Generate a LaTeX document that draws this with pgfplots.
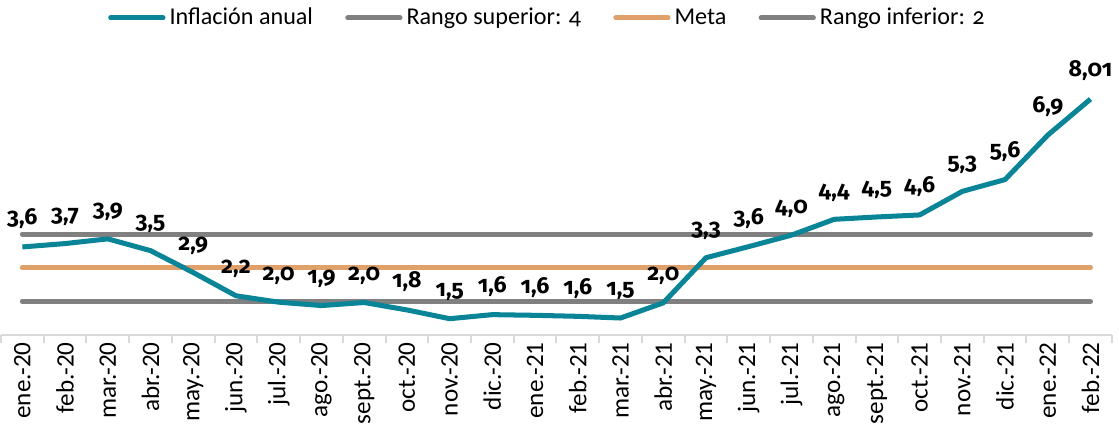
\documentclass[border=0pt]{standalone}
\usepackage{fontspec}
\setmainfont{Carlito}
\newfontfamily\osf[Numbers=OldStyle]{Carlito}
\newfontfamily\lblfont[Numbers=OldStyle]{Fira Sans}
\usepackage{pgfplots}
\pgfplotsset{compat=1.18}
\definecolor{inflcol}{RGB}{10,133,152}
\definecolor{rangocol}{RGB}{128,128,128}
\definecolor{metacol}{RGB}{223,160,106}
\definecolor{axiscol}{RGB}{217,217,217}

\pgfplotstableread{
x val lab
0 3.62 3,6
1 3.72 3,7
2 3.86 3,9
3 3.51 3,5
4 2.86 2,9
5 2.17 2,2
6 1.98 2,0
7 1.88 1,9
8 1.97 2,0
9 1.75 1,8
10 1.49 1,5
11 1.61 1,6
12 1.59 1,6
13 1.56 1,6
14 1.51 1,5
15 1.96 2,0
16 3.30 3,3
17 3.63 3,6
18 3.97 4,0
19 4.44 4,4
20 4.51 4,5
21 4.57 4,6
22 5.27 5,3
23 5.62 5,6
24 6.94 6,9
25 8.01 8,01
}\inflacion

\begin{document}
\begin{tikzpicture}
\begin{axis}[
 scale only axis,
 width=552.5pt, height=142.4pt,
 xmin=-0.5, xmax=25.5, ymin=1, ymax=9.5,
 axis x line*=bottom, axis y line=none,
 x axis line style={draw=axiscol, line width=1pt, -},
 xtick={0,...,25},
 xticklabels={ene.-20,feb.-20,mar.-20,abr.-20,may.-20,jun.-20,jul.-20,ago.-20,sept.-20,oct.-20,nov.-20,dic.-20,ene.-21,feb.-21,mar.-21,abr.-21,may.-21,jun.-21,jul.-21,ago.-21,sept.-21,oct.-21,nov.-21,dic.-21,ene.-22,feb.-22},
 minor xtick={-0.5,0.5,...,25.5},
 major tick length=0pt, minor tick length=4pt,
 tick align=outside,
 minor tick style={draw=axiscol, line width=1pt},
 xticklabel style={rotate=90, anchor=east, font=\fontsize{12.5}{14}\selectfont},
 clip=false,
 legend style={at={(0.5,1)}, anchor=center, yshift=15.4pt, xshift=-4pt,
   draw=none, fill=none, legend columns=-1,
   font=\fontsize{12}{14}\selectfont\osf,
   /tikz/every even column/.append style={column sep=14pt}},
 legend image code/.code={\draw[#1, line cap=round] (0pt,0pt) -- (26pt,0pt);},
]
\addlegendimage{inflcol, line width=2.5pt}
\addlegendentry{Inflación anual}
\addlegendimage{rangocol, line width=2.5pt}
\addlegendentry{Rango superior: 4}
\addlegendimage{metacol, line width=2.5pt}
\addlegendentry{Meta}
\addlegendimage{rangocol, line width=2.5pt}
\addlegendentry{Rango inferior: 2}

\addplot[forget plot, rangocol, line width=2.5pt, line cap=round] coordinates {(0,4) (25,4)};
\addplot[forget plot, metacol, line width=2.5pt, line cap=round] coordinates {(0,3) (25,3)};
\addplot[forget plot, rangocol, line width=2.5pt, line cap=round] coordinates {(0,2) (25,2)};
\addplot[forget plot, inflcol, line width=2.5pt, line join=round, mark=none,
  point meta=explicit symbolic,
  nodes near coords={\lblfont\bfseries\pgfplotspointmeta},
  every node near coord/.append style={anchor=base, yshift=11pt, text=black, font=\fontsize{11.5}{14}\selectfont}]
  table[x=x, y=val, meta=lab] {\inflacion};
\end{axis}
\end{tikzpicture}
\end{document}
